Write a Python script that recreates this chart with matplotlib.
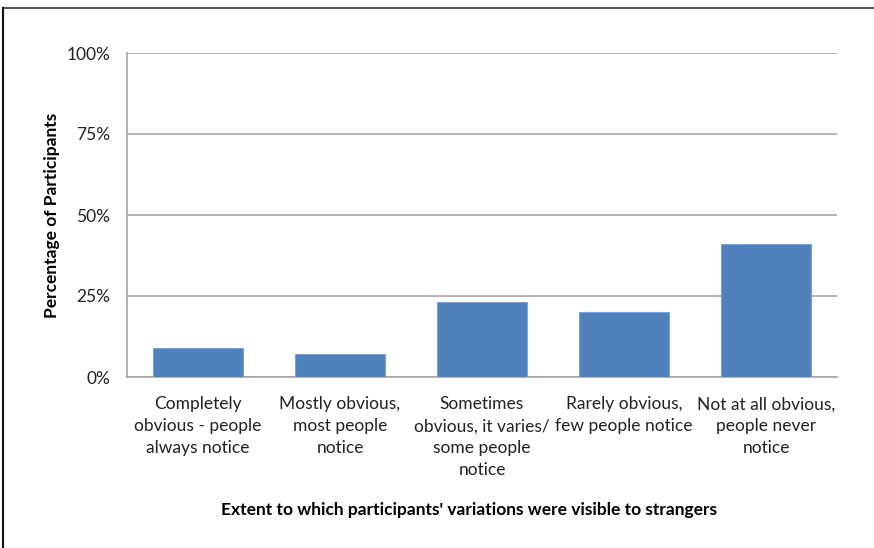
import matplotlib.pyplot as plt
from matplotlib.lines import Line2D

# Data
categories = [
    'Completely\nobvious - people\nalways notice',
    'Mostly obvious,\nmost people\nnotice',
    'Sometimes\nobvious, it varies/\nsome people\nnotice',
    'Rarely obvious,\nfew people notice',
    'Not at all obvious,\npeople never\nnotice',
]
percentages = [9, 7, 23, 20, 41]
y_ticks = [0, 25, 50, 75, 100]
y_tick_labels = ['0%', '25%', '50%', '75%', '100%']

plt.rcParams['font.family'] = ['Lato', 'DejaVu Sans']

W, H = 874, 548
fig = plt.figure(figsize=(W / 100, H / 100), dpi=100)
ax = fig.add_axes([127 / W, 1 - 377 / H, (837 - 127) / W, (377 - 53) / H])

x = range(len(categories))
ax.bar(x, percentages, width=0.64, color='#4F81BD', edgecolor='#7AA2D6',
       linewidth=0.8, zorder=3)

ax.set_xlim(-0.5, len(categories) - 0.5)
ax.set_ylim(0, 100)
ax.set_yticks(y_ticks)
ax.set_yticklabels(y_tick_labels, fontsize=12.5, color='#222222')
ax.set_xticks(list(x))
ax.set_xticklabels(categories, fontsize=12.5, color='#222222', linespacing=1.45,
                   va='top')
ax.tick_params(axis='x', length=0, pad=14)
ax.tick_params(axis='y', length=0, pad=12)

ax.grid(axis='y', color='#A6A6A6', linewidth=1.2, zorder=0)
for side in ['top', 'right']:
    ax.spines[side].set_visible(False)
for side in ['left', 'bottom']:
    ax.spines[side].set_color('#A6A6A6')
    ax.spines[side].set_linewidth(1.2)

fig.text(52 / W, 1 - 215 / H, 'Percentage of Participants', rotation=90,
         ha='center', va='center', fontsize=12.5, fontweight='bold')
fig.text(469 / W, 1 - 510 / H,
         "Extent to which participants' variations were visible to strangers",
         ha='center', va='center', fontsize=12.5, fontweight='bold')

# outer frame (top and left edges only)
fig.add_artist(Line2D([3 / W, 1], [1 - 8 / H, 1 - 8 / H], color='#555555', linewidth=1.5))
fig.add_artist(Line2D([3 / W, 3 / W], [0, 1 - 8 / H], color='#111111', linewidth=1.5))

fig.savefig('out.png', dpi=100)
